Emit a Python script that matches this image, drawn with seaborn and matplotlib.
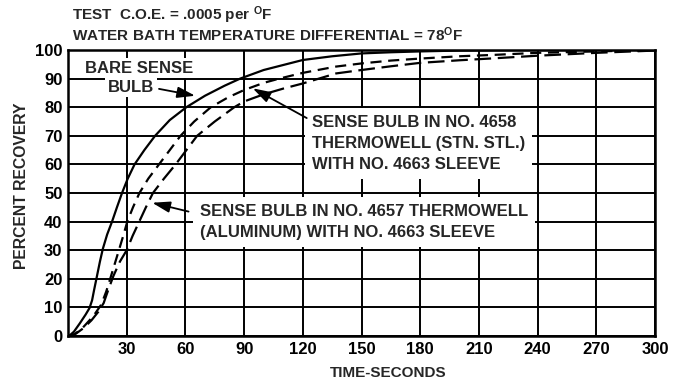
import numpy as np
import pandas as pd
import matplotlib
matplotlib.use("Agg")
import matplotlib.pyplot as plt
import seaborn as sns

# values (time in seconds, percent recovery)
bare_t = [0, 1, 3, 6, 9, 11, 12.3, 13.3, 14.8, 16.3, 17.8, 20, 22.5, 25, 27.6, 30.5, 34, 39, 44.5, 52, 60.5, 70, 80, 88,
          100, 120, 135, 150, 165, 180, 200, 220, 250, 300]
bare_v = [0, 0.3, 1.5, 4.4, 7.5, 9.8, 12.5, 16, 21, 26, 30.5, 35.5, 40, 45, 50, 55, 60, 65, 70, 75.5, 80, 84, 87.5,
          90, 93, 96.5, 97.8, 98.8, 99.2, 99.5, 99.8, 99.9, 100, 100]

stn_t = [0, 3, 7, 11, 14, 17, 19.5, 22, 24, 26, 28.2, 30.3, 33.2, 36.5, 41, 46.5, 52, 57.5, 64.5, 73, 82, 90, 100, 108,
         120, 137, 150, 165, 180, 200, 218, 240, 270, 300]
stn_v = [0, 0.5, 2.5, 5.5, 8, 11, 15.5, 21, 25.5, 30, 35, 40, 45, 50, 55, 60, 65, 70, 75, 80, 83.5, 86, 88.5, 90, 92,
         94.2, 95.3, 96.3, 97, 97.8, 98.3, 99, 99.5, 100]

alu_t = [0, 4, 8, 12, 15.5, 18.2, 20.5, 23.2, 26.5, 30, 33, 36.4, 39.8, 43.4, 49, 55, 60.5, 66, 75, 85, 90, 100, 110,
         120, 137, 150, 165, 180, 200, 218, 240, 270, 300]
alu_v = [0, 0.8, 2.8, 5.5, 8.5, 11.5, 16, 21, 26, 30, 35, 40, 45, 50, 55, 60, 65, 70, 75, 80, 82, 84.5, 86.5,
         88.3, 91.8, 93, 94.3, 95.5, 96.4, 97.1, 98, 99, 99.8]

x_ticks = [30, 60, 90, 120, 150, 180, 210, 240, 270, 300]
y_ticks = [0, 10, 20, 30, 40, 50, 60, 70, 80, 90, 100]

df = pd.concat([
    pd.DataFrame({"time": bare_t, "recovery": bare_v, "sensor": "bare"}),
    pd.DataFrame({"time": stn_t, "recovery": stn_v, "sensor": "4658"}),
    pd.DataFrame({"time": alu_t, "recovery": alu_v, "sensor": "4657"}),
])

sns.set_theme(style="white")
plt.rcParams["font.family"] = ["Liberation Sans", "DejaVu Sans"]
plt.rcParams["font.weight"] = "bold"
plt.rcParams["mathtext.fontset"] = "custom"
plt.rcParams["mathtext.rm"] = "Liberation Sans:bold"
plt.rcParams["mathtext.it"] = "Liberation Sans:bold"
plt.rcParams["mathtext.bf"] = "Liberation Sans:bold"

fig = plt.figure(figsize=(6.83, 3.83), dpi=100)
ax = fig.add_axes([0.0996, 0.1227, 0.8594, 0.7468])

sns.lineplot(data=df, x="time", y="recovery", style="sensor", color="black",
             dashes={"bare": "", "4658": (5, 3), "4657": (7.5, 3)},
             estimator=None, sort=False, legend=False, linewidth=1.6, ax=ax, zorder=4)

ax.set_xlim(0, 300)
ax.set_ylim(0, 100)
ax.set_xticks(x_ticks)
ax.set_yticks(y_ticks)
ax.tick_params(axis="both", length=0, labelsize=12, colors="black", pad=4)
for lab in ax.get_xticklabels() + ax.get_yticklabels():
    lab.set_fontweight("bold")
ax.grid(True, color="black", linewidth=1.4)
ax.set_axisbelow(True)
for sp in ax.spines.values():
    sp.set_color("black")
    sp.set_linewidth(1.8)

ax.set_xlabel("")
ax.set_ylabel("")
fig.text(0.568, 0.026, "TIME-SECONDS", ha="center", va="center", fontsize=11, fontweight="bold")
fig.text(0.032, 0.514, "PERCENT RECOVERY", ha="center", va="center", rotation=90, fontsize=11.3, fontweight="bold")

fig.text(0.105, 0.961, r"TEST  C.O.E. = .0005 per $^{\mathrm{O}}$F", ha="left", va="center", fontsize=11, fontweight="bold")
fig.text(0.105, 0.909, r"WATER BATH TEMPERATURE DIFFERENTIAL = 78$^{\mathrm{O}}$F", ha="left", va="center",
         fontsize=11, fontweight="bold")

box = dict(facecolor="white", edgecolor="none", pad=2)
ax.text(8.6, 93.7, "BARE SENSE", ha="left", va="center", fontsize=12, fontweight="bold", bbox=box, zorder=3)
ax.text(20.5, 87, "BULB", ha="left", va="center", fontsize=12, fontweight="bold", bbox=box, zorder=3)
ax.text(124.7, 67.3, "SENSE BULB IN NO. 4658\nTHERMOWELL (STN. STL.)\nWITH NO. 4663 SLEEVE",
        ha="left", va="center", fontsize=12, fontweight="bold", linespacing=1.5,
        bbox=dict(facecolor="white", edgecolor="none", pad=5), zorder=3)
ax.text(67.5, 39.7, "SENSE BULB IN NO. 4657 THERMOWELL\n(ALUMINUM) WITH NO. 4663 SLEEVE",
        ha="left", va="center", fontsize=12, fontweight="bold", linespacing=1.5,
        bbox=dict(facecolor="white", edgecolor="none", pad=5), zorder=3)

arrow = dict(arrowstyle="-|>,head_length=0.9,head_width=0.28", color="black", lw=1.3, shrinkA=0, shrinkB=0)
ax.annotate("", xy=(65, 84), xytext=(46.5, 86.4), arrowprops=arrow, zorder=5)
ax.annotate("", xy=(94.4, 86.6), xytext=(122, 76.2), arrowprops=arrow, zorder=5)
ax.annotate("", xy=(43, 46.6), xytext=(61.6, 43.5), arrowprops=arrow, zorder=5)

fig.savefig("out.png", dpi=100)
